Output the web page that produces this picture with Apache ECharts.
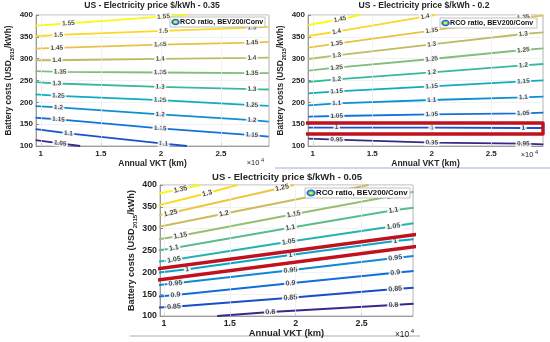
<!DOCTYPE html>
<html><head><meta charset="utf-8">
<script src="https://cdn.jsdelivr.net/npm/echarts@6/dist/echarts.min.js"></script>
<style>html,body{margin:0;padding:0;background:#fff}#c{width:550px;height:342px}</style>
</head><body><div id="c"></div>
<script>
// ---------- DATA ----------
const xTicks = [1, 1.5, 2, 2.5];
const titles = ['US - Electricity price $/kWh - 0.35', 'US - Electricity price $/kWh - 0.2', 'US - Electricity price $/kWh - 0.05'];
const legendText = 'RCO ratio, BEV200/Conv';
const xName = 'Annual VKT (km)';
const yName = 'Battery costs (USD{sub|2015}/kWh)';

// Panel 1 (0.35 $/kWh): contour levels, polylines [VKT/1e4, battery cost], label point indices
const p1Levels = [1.05, 1.1, 1.15, 1.2, 1.25, 1.3, 1.35, 1.4, 1.45, 1.5, 1.55];
const p1Lines = [
  [[0.957,113.7],[1.161,106.1],[1.328,100]],
  [[0.957,138.8],[1.230,128.9],[2.022,105.3],[2.217,100]],
  [[0.957,164.7],[1.147,160.9],[1.994,140.4],[2.758,125.1],[2.897,121.4]],
  [[0.957,191.4],[1.147,188.3],[1.994,172.3],[2.758,159.4],[2.897,155.6]],
  [[0.957,218.0],[1.147,215.0],[1.994,205.1],[2.758,193.7],[2.897,192.1]],
  [[0.957,246.2],[1.133,243.1],[1.994,235.5],[2.758,230.2],[2.897,229.4]],
  [[0.957,271.3],[1.161,269.8],[1.994,268.3],[2.758,266.8],[2.897,266.8]],
  [[0.957,296.4],[1.133,296.4],[1.994,299.5],[2.758,301.8],[2.897,302.5]],
  [[0.957,323.1],[1.133,324.6],[1.994,332.2],[2.758,336.8],[2.897,338.3]],
  [[0.957,351.3],[1.147,354.3],[2.022,363.5],[2.758,371.1],[2.897,372.6]],
  [[0.957,375.6],[1.230,381.0],[2.022,396.2],[2.217,400]]
];
const p1LabelAt = [[1],[1,2],[1,2,3],[1,2,3],[1,2,3],[1,2,3],[1,2,3],[1,2,3],[1,2,3],[1,2,3],[1,2]];

// Panel 2 (0.2 $/kWh)
const p2Levels = [0.95, 1, 1.05, 1.1, 1.15, 1.2, 1.25, 1.3, 1.35, 1.4, 1.45];
const p2Lines = [
  [[0.963,116.8],[1.201,114.5],[2.0,107.6],[2.770,105.3],[2.938,103.8]],
  [[0.963,142.0],[1.201,142.0],[2.0,142.0],[2.770,141.2],[2.938,141.2]],
  [[0.963,167.2],[1.201,168.7],[2.0,172.5],[2.770,174.8],[2.938,176.3]],
  [[0.963,193.1],[1.201,197.7],[2.0,205.3],[2.770,211.4],[2.938,213.0]],
  [[0.963,220.6],[1.201,225.2],[2.0,236.6],[2.770,248.1],[2.938,250.4]],
  [[0.963,246.6],[1.201,252.7],[2.0,268.7],[2.770,284.7],[2.938,287.8]],
  [[0.963,272.5],[1.201,279.4],[2.0,299.2],[2.770,319.8],[2.938,323.7]],
  [[0.963,299.2],[1.201,307.6],[2.0,332.8],[2.770,356.5],[2.938,360.3]],
  [[0.963,325.2],[1.201,334.3],[2.0,364.1],[2.770,394.7],[2.938,398.5]],
  [[0.963,351.9],[1.201,361.8],[1.944,396.2],[2.027,400]],
  [[0.963,377.1],[1.229,390.1],[1.397,400]]
];
const p2LabelAt = [[1,2,3],[1,2,3],[1,2,3],[1,2,3],[1,2,3],[1,2,3],[1,2,3],[1,2,3],[1,2,3],[1,2],[1]];
const p2Highlight = [[0.918,127.5],[2.935,127.5],[2.935,152.7],[0.918,152.7],[0.918,127.5]];

// Panel 3 (0.05 $/kWh)
const p3Levels = [0.8, 0.85, 0.9, 0.95, 1, 1.05, 1.1, 1.15, 1.2, 1.25, 1.3, 1.35];
const p3Lines = [
  [[1.404,100],[1.808,109.1],[2.742,125.2],[2.894,128.2]],
  [[0.957,119.1],[1.076,121.4],[1.96,141.9],[2.755,161.8],[2.894,164.9]],
  [[0.957,144.3],[1.088,148.1],[1.96,174.8],[2.755,199.2],[2.894,203.0]],
  [[0.957,171.0],[1.088,174.8],[1.96,204.6],[2.755,232.8],[2.894,237.4]],
  [[0.957,199.2],[1.177,206.9],[1.96,239.7],[2.755,271.7],[2.894,275.6]],
  [[0.957,224.4],[1.076,229.0],[1.947,270.2],[2.742,305.3],[2.894,312.2]],
  [[0.957,250.4],[1.076,255.7],[1.96,302.3],[2.742,342.0],[2.894,348.1]],
  [[0.957,275.6],[1.126,284.0],[1.985,332.8],[2.742,375.6],[2.894,384.7]],
  [[0.957,303.8],[1.455,334.3],[2.553,400]],
  [[0.957,330.5],[1.051,335.9],[1.897,393.9],[1.985,400]],
  [[0.957,353.4],[1.328,381.0],[1.556,400]],
  [[0.957,380.2],[1.126,390.1],[1.278,400]]
];
const p3LabelAt = [[1,2],[1,2,3],[1,2,3],[1,2,3],[1,2,3],[1,2,3],[1,2,3],[1,2,3],[1],[1,2],[1],[1]];
const p3Highlight = [[0.92,181.3],[2.945,260.3],[2.945,287.8],[0.92,206.9],[0.92,181.3]];

// ---------- STYLE / LAYOUT ----------
const FONT = '"Liberation Sans", Arial, Helvetica, sans-serif';
const AX = '#262626';
const parulaStops = ['#352a87','#0f5cdd','#1481d6','#06a7c6','#38b99e','#92bf73','#d9ba56','#fcce2e','#f9fb0e'];
function hex2rgb(h){return [1,3,5].map(i=>parseInt(h.substr(i,2),16));}
function parula(t){
  t = Math.max(0, Math.min(1, t));
  const f = t*(parulaStops.length-1), i = Math.min(Math.floor(f), parulaStops.length-2), u = f-i;
  const a = hex2rgb(parulaStops[i]), b = hex2rgb(parulaStops[i+1]);
  return 'rgb(' + a.map((v,k)=>Math.round(v+(b[k]-v)*u)).join(',') + ')';
}

const panels = [
  {levels:p1Levels, lines:p1Lines, labelAt:p1LabelAt, hl:null, left:36, top:15, width:233, height:131, xMin:0.96, xMax:2.9, s:1,
   title:titles[0], tx:152, ty:6, lg:[170,17,95,10], x10:[253,163], nameGap:12, yGap:21, lblMargin:4},
  {levels:p2Levels, lines:p2Lines, labelAt:p2LabelAt, hl:p2Highlight, left:308, top:15, width:235, height:131, xMin:0.96, xMax:2.935, s:1,
   title:titles[1], tx:424, ty:6, lg:[440,18,97,10], x10:[527,155], nameGap:12, yGap:21, lblMargin:4},
  {levels:p3Levels, lines:p3Lines, labelAt:p3LabelAt, hl:p3Highlight, left:160, top:185, width:253, height:131, xMin:0.97, xMax:2.89, s:1.1,
   title:titles[2], tx:287, ty:177, lg:[305,188,105,10], x10:[402,334.5], nameGap:11, yGap:20, lblMargin:3}
];

const grids=[], xAxes=[], yAxes=[], series=[], graphics=[];
panels.forEach((p,i)=>{
  const s = p.s;
  grids.push({left:p.left, top:p.top, width:p.width, height:p.height, show:true, borderColor:'#a0a0a0', borderWidth:0.8,
    backgroundColor:'#fff', containLabel:false, outerBoundsMode:'none'});
  xAxes.push({type:'value', gridIndex:i, min:p.xMin, max:p.xMax,
    axisLine:{show:true, onZero:false, lineStyle:{color:'#8c8c8c', width:0.8}},
    axisTick:{show:true, inside:true, length:3, customValues:xTicks, lineStyle:{color:'#8c8c8c'}},
    axisLabel:{customValues:xTicks, fontSize:8*s, fontWeight:'bold', color:AX, fontFamily:FONT, margin:p.lblMargin},
    splitLine:{show:false},
    name:xName, nameLocation:'middle', nameGap:p.nameGap,
    nameTextStyle:{fontSize:8.5*s, fontWeight:'bold', color:AX, fontFamily:FONT}});
  yAxes.push({type:'value', gridIndex:i, min:100, max:400, interval:50,
    axisLine:{show:true, onZero:false, lineStyle:{color:'#8c8c8c', width:0.8}},
    axisTick:{show:true, inside:true, length:3, lineStyle:{color:'#8c8c8c'}},
    axisLabel:{fontSize:8*s, fontWeight:'bold', color:AX, fontFamily:FONT, margin:3},
    splitLine:{show:true, lineStyle:{color:'#ececec', width:0.7}},
    name:yName, nameLocation:'middle', nameGap:p.yGap,
    nameTextStyle:{fontSize:8.3*s, fontWeight:'bold', color:AX, fontFamily:FONT,
      rich:{sub:{fontSize:5.5*s, fontWeight:'bold', color:AX, fontFamily:FONT, verticalAlign:'bottom', lineHeight:13*s}}}});
  series.push({type:'line', xAxisIndex:i, yAxisIndex:i, data:[], silent:true, z:1,
    markLine:{silent:true, symbol:'none', label:{show:false}, animation:false,
      lineStyle:{color:'#ececec', width:0.7, type:'solid'}, data:xTicks.map(v=>({xAxis:v}))}});
  const lo = p.levels[0], hi = p.levels[p.levels.length-1];
  const labelData = [];
  p.levels.forEach((lev,j)=>{
    const pts = p.lines[j];
    series.push({type:'line', xAxisIndex:i, yAxisIndex:i, data:pts, symbol:'none', showSymbol:false, silent:true, z:2,
      animation:false, lineStyle:{color:parula((lev-lo)/(hi-lo)), width:1.8*s}});
    p.labelAt[j].forEach(idx=>{
      const a = pts[Math.max(idx-1,0)], b = pts[Math.min(idx+1, pts.length-1)];
      const dx = (b[0]-a[0])/(p.xMax-p.xMin)*p.width, dy = (b[1]-a[1])/300*p.height;
      const ang = Math.atan2(dy, dx)*180/Math.PI;
      labelData.push({name:String(lev), value:pts[idx], label:{rotate:ang}});
    });
  });
  series.push({type:'scatter', xAxisIndex:i, yAxisIndex:i, data:labelData, symbolSize:1, silent:true, z:3, animation:false,
    itemStyle:{color:'rgba(0,0,0,0)'},
    label:{show:true, position:'inside', formatter:'{b}', fontSize:6.5*s, fontWeight:'bold', color:'#1a1a1a', fontFamily:FONT,
      backgroundColor:'#fff', padding:[0,1.5]}});
  if (p.hl) {
    series.push({type:'line', xAxisIndex:i, yAxisIndex:i, data:p.hl, symbol:'none', showSymbol:false, clip:false, silent:true, z:20,
      animation:false, lineStyle:{color:'#c0121e', width:3.5, join:'round', cap:'round'}});
  }
  graphics.push({type:'text', x:p.tx, y:p.ty, z:50, style:{text:p.title, align:'center', verticalAlign:'middle',
    font:'bold ' + (8.6*s).toFixed(1) + 'px ' + FONT, fill:AX}});
  graphics.push({type:'text', x:p.x10[0], y:p.x10[1], z:50, style:{text:'\u00d710', align:'center', verticalAlign:'middle',
    font:(7.5*s).toFixed(1) + 'px ' + FONT, fill:AX}});
  graphics.push({type:'text', x:p.x10[0]+8*s, y:p.x10[1]-3*s, z:50, style:{text:'4', align:'left', verticalAlign:'middle',
    font:(5.5*s).toFixed(1) + 'px ' + FONT, fill:AX}});
  const [lx,ly,lw,lh] = p.lg, cy = ly + lh/2, ix = lx + 5.5*s;
  graphics.push({type:'rect', z:100, shape:{x:lx, y:ly, width:lw, height:lh}, style:{fill:'#fff', stroke:'#b0b0b0', lineWidth:0.8}});
  graphics.push({type:'ellipse', z:101, shape:{cx:ix, cy:cy, rx:4.2*s, ry:3.2*s}, style:{fill:'#2f55d4'}});
  graphics.push({type:'ellipse', z:102, shape:{cx:ix, cy:cy, rx:3.0*s, ry:2.2*s}, style:{fill:'#2fbfa8'}});
  graphics.push({type:'ellipse', z:103, shape:{cx:ix, cy:cy, rx:1.8*s, ry:1.2*s}, style:{fill:'#f2ec2a'}});
  graphics.push({type:'text', z:104, x:ix + 4.6*s, y:cy, style:{text:legendText, align:'left', verticalAlign:'middle',
    font:'bold ' + (7.1*s).toFixed(1) + 'px ' + FONT, fill:'#111'}});
});
graphics.push({type:'rect', z:0, shape:{x:275, y:167, width:275, height:2}, style:{fill:'#cdd8e4'}});
graphics.push({type:'rect', z:0, shape:{x:130, y:335, width:290, height:2}, style:{fill:'#cdd8e4'}});

const chart = echarts.init(document.getElementById('c'), null, {renderer:'canvas', width:550, height:342});
chart.setOption({
  backgroundColor:'#fff', animation:false,
  grid:grids, xAxis:xAxes, yAxis:yAxes, series:series, graphic:graphics
});
</script></body></html>
